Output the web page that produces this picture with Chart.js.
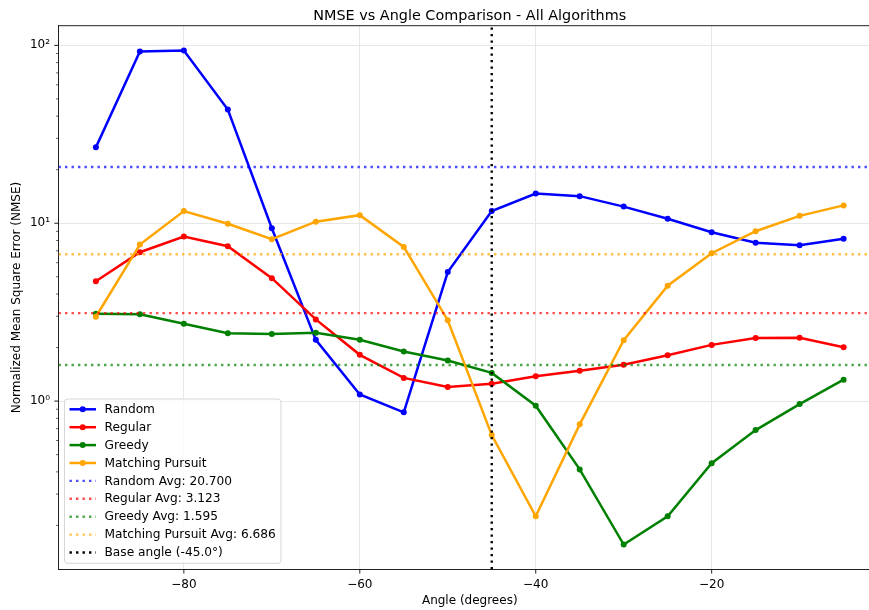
<!DOCTYPE html>
<html>
<head>
<meta charset="utf-8">
<script src="https://cdn.jsdelivr.net/npm/chart.js@4.4.0/dist/chart.umd.min.js"></script>
<style>
  html, body { margin: 0; padding: 0; background: #fff; overflow: hidden; }
  #wrap { width: 869px; height: 610px; overflow: hidden; }
</style>
</head>
<body>
<div id="wrap"><canvas id="c" width="885" height="610"></canvas></div>
<script>
// Angles (degrees) at which each algorithm was evaluated
const angles = [-90, -85, -80, -75, -70, -65, -60, -55, -50, -45, -40, -35, -30, -25, -20, -15, -10, -5];

// NMSE per algorithm
const randomNmse  = [26.7, 92.5, 93.7, 43.6, 9.37, 2.21, 1.09, 0.865, 5.31, 11.7, 14.7, 14.2, 12.4, 10.6, 8.89, 7.76, 7.52, 8.17];
const regularNmse = [4.72, 6.87, 8.42, 7.42, 4.91, 2.88, 1.82, 1.35, 1.20, 1.25, 1.38, 1.48, 1.60, 1.81, 2.07, 2.26, 2.27, 2.01];
const greedyNmse  = [3.10, 3.08, 2.72, 2.41, 2.38, 2.42, 2.21, 1.90, 1.69, 1.44, 0.942, 0.413, 0.156, 0.225, 0.447, 0.687, 0.962, 1.32];
const mpNmse      = [2.98, 7.59, 11.7, 9.93, 8.13, 10.2, 11.1, 7.36, 2.85, 0.644, 0.225, 0.740, 2.20, 4.45, 6.78, 9.02, 11.0, 12.6];

// Average NMSE per algorithm
const avgLabels = ['Random Avg: 20.700', 'Regular Avg: 3.123', 'Greedy Avg: 1.595', 'Matching Pursuit Avg: 6.686'];
const avgValues = [20.700, 3.123, 1.595, 6.686];

// Reference angle
const baseAngle = -45.0;

// Axis limits and tick values
const xLimits = [-94.25, -0.75];
const yLimits = [0.1133, 129.0];
const xTicks = [-80, -60, -40, -20];
const yMajorTicks = [1, 10, 100];
const yMinorTicks = [0.2, 0.3, 0.4, 0.5, 0.6, 0.7, 0.8, 0.9, 2, 3, 4, 5, 6, 7, 8, 9, 20, 30, 40, 50, 60, 70, 80, 90];

const FONT = "'DejaVu Sans', 'Liberation Sans', sans-serif";
const SUP = { '0': '\u2070', '1': '\u00b9', '2': '\u00b2', '3': '\u00b3', '-': '\u207b' };

const pts = (ys) => angles.map((a, i) => ({ x: a, y: ys[i] }));

const seriesDef = [
  { label: 'Random', data: randomNmse, color: '#0000ff' },
  { label: 'Regular', data: regularNmse, color: '#ff0000' },
  { label: 'Greedy', data: greedyNmse, color: '#008000' },
  { label: 'Matching Pursuit', data: mpNmse, color: '#ffa500' }
];
const avgColors = ['rgba(0,0,255,0.7)', 'rgba(255,0,0,0.7)', 'rgba(0,128,0,0.7)', 'rgba(255,165,0,0.7)'];

const DOT = [2.4, 4.1];
const datasets = [];
seriesDef.forEach(s => datasets.push({
  label: s.label, data: pts(s.data), borderColor: s.color, backgroundColor: s.color,
  borderWidth: 2.5, pointRadius: 3, pointBorderWidth: 0, pointBackgroundColor: s.color,
  tension: 0, fill: false
}));
avgValues.forEach((v, i) => datasets.push({
  label: avgLabels[i], data: [{ x: xLimits[0], y: v }, { x: xLimits[1], y: v }],
  borderColor: avgColors[i], borderWidth: 2.4, borderDash: DOT, borderCapStyle: 'butt',
  pointRadius: 0, fill: false
}));
datasets.push({
  label: 'Base angle (' + baseAngle.toFixed(1) + '\u00b0)',
  data: [{ x: baseAngle, y: yLimits[0] }, { x: baseAngle, y: yLimits[1] }],
  borderColor: '#000000', borderWidth: 2.4, borderDash: DOT, borderCapStyle: 'butt',
  pointRadius: 0, fill: false
});
// later datasets are painted over earlier ones
datasets.forEach((d, i) => { d.order = datasets.length - i; });

const supLabel = (v) => {
  const e = Math.round(Math.log10(v));
  return '10' + String(e).split('').map(c => SUP[c]).join('');
};

// Frame, tick marks, title and legend
const decor = {
  id: 'decor',
  afterDraw(chart) {
    const ctx = chart.ctx;
    const a = chart.chartArea;
    const xs = chart.scales.x, ys = chart.scales.y;
    ctx.save();
    // top / right spines
    ctx.strokeStyle = '#222';
    ctx.lineWidth = 1;
    ctx.beginPath();
    ctx.moveTo(a.left, a.top); ctx.lineTo(a.right, a.top); ctx.lineTo(a.right, a.bottom);
    ctx.stroke();
    // tick marks
    ctx.beginPath();
    xTicks.forEach(t => { const p = xs.getPixelForValue(t); ctx.moveTo(p, a.bottom); ctx.lineTo(p, a.bottom + 4.2); });
    yMajorTicks.forEach(t => { const p = ys.getPixelForValue(t); ctx.moveTo(a.left, p); ctx.lineTo(a.left - 4.2, p); });
    ctx.stroke();
    ctx.lineWidth = 0.75;
    ctx.beginPath();
    yMinorTicks.forEach(t => { const p = ys.getPixelForValue(t); ctx.moveTo(a.left, p); ctx.lineTo(a.left - 2.4, p); });
    ctx.stroke();

    // title, centred on the axes
    ctx.fillStyle = '#000';
    ctx.font = '14.4px ' + FONT;
    ctx.textAlign = 'center';
    ctx.textBaseline = 'alphabetic';
    ctx.fillText('NMSE vs Angle Comparison - All Algorithms', (a.left + a.right) / 2, 19.5);

    // legend box
    const bx = 64.5, by = 399, bw = 216.5, bh = 164.3;
    ctx.fillStyle = 'rgba(255,255,255,0.8)';
    ctx.strokeStyle = 'rgba(204,204,204,0.8)';
    ctx.lineWidth = 1;
    ctx.beginPath();
    ctx.roundRect(bx, by, bw, bh, 3);
    ctx.fill();
    ctx.stroke();
    const rowH = 17.9, y0 = 409.3;
    chart.data.datasets.forEach((d, i) => {
      const y = y0 + i * rowH;
      ctx.save();
      ctx.strokeStyle = d.borderColor;
      ctx.lineWidth = d.borderWidth;
      ctx.lineCap = 'butt';
      ctx.setLineDash(d.borderDash || []);
      ctx.beginPath(); ctx.moveTo(69.5, y); ctx.lineTo(96, y); ctx.stroke();
      ctx.restore();
      if (d.pointRadius > 0) {
        ctx.fillStyle = d.pointBackgroundColor;
        ctx.beginPath(); ctx.arc(82.7, y, d.pointRadius, 0, Math.PI * 2); ctx.fill();
      }
      ctx.fillStyle = '#000';
      ctx.font = '12.2px ' + FONT;
      ctx.textAlign = 'left';
      ctx.textBaseline = 'middle';
      ctx.fillText(d.label, 104.5, y + 0.5);
    });
    ctx.restore();
  }
};

Chart.defaults.font.family = FONT;
Chart.defaults.font.size = 12;
Chart.defaults.color = '#000';

new Chart(document.getElementById('c'), {
  type: 'line',
  data: { datasets },
  plugins: [decor],
  options: {
    responsive: false,
    animation: false,
    events: [],
    layout: { padding: { top: 25.7, right: 0.5, left: 0, bottom: 0 } },
    plugins: { legend: { display: false }, title: { display: false }, tooltip: { enabled: false } },
    scales: {
      x: {
        type: 'linear',
        min: xLimits[0], max: xLimits[1],
        afterBuildTicks: (s) => { s.ticks = xTicks.map(v => ({ value: v })); },
        afterFit: (s) => { s.height = 40.7; },
        ticks: {
          autoSkip: false, maxRotation: 0, padding: 8,
          font: { size: 12 }, color: '#000',
          callback: (v) => String(v).replace('-', '\u2212')
        },
        grid: { color: '#e7e7e7', lineWidth: 1, drawTicks: false },
        border: { display: true, color: '#222', width: 1 },
        title: { display: true, text: 'Angle (degrees)', font: { size: 12, lineHeight: 1.2 }, color: '#000', padding: { top: 0, bottom: 2.3 } }
      },
      y: {
        type: 'logarithmic',
        min: yLimits[0], max: yLimits[1],
        afterBuildTicks: (s) => {
          s.ticks = yMinorTicks.concat(yMajorTicks).sort((p, q) => p - q).map(v => ({ value: v, major: yMajorTicks.includes(v) }));
        },
        afterFit: (s) => { s.width = 58.5; },
        ticks: {
          autoSkip: false, padding: 8.5,
          font: { size: 12 }, color: '#000',
          callback: (v) => yMajorTicks.includes(v) ? supLabel(v) : ''
        },
        grid: {
          drawTicks: false, lineWidth: 1,
          color: (c) => (c.tick && yMajorTicks.includes(c.tick.value)) ? '#e7e7e7' : 'rgba(0,0,0,0)'
        },
        border: { display: true, color: '#222', width: 1 },
        title: { display: true, text: 'Normalized Mean Square Error (NMSE)', font: { size: 12, lineHeight: 1.2 }, color: '#000', padding: { top: 9.5, bottom: 0 } }
      }
    }
  }
});
</script>
</body>
</html>
